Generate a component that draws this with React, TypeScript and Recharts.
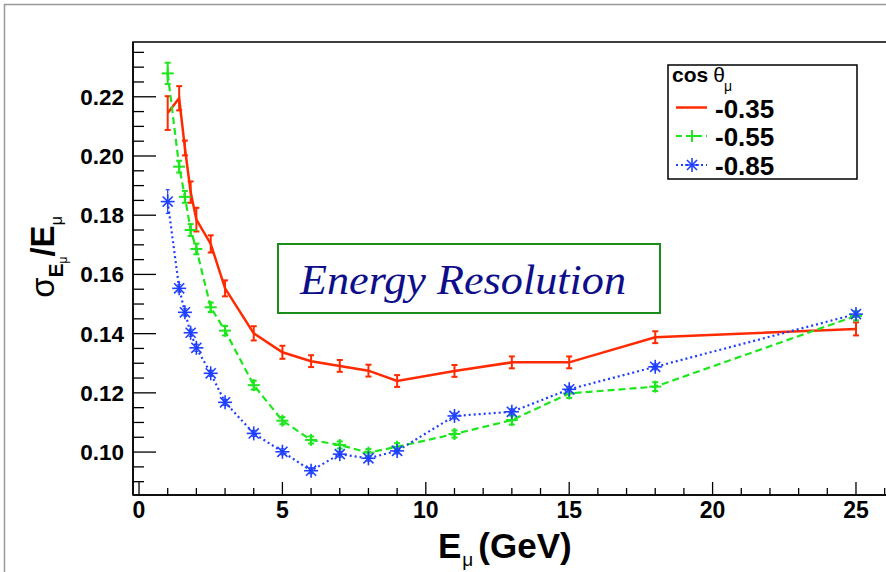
import React from 'react';
import { LineChart, Line, XAxis, YAxis, ErrorBar, ReferenceArea, Legend } from 'recharts';

// ---- data ----
const energies = [1, 1.4, 1.6, 1.8, 2, 2.5, 3, 4, 5, 6, 7, 8, 9, 11, 13, 15, 18, 25];
const resCos035 = [0.2145, 0.2195, 0.2027, 0.1878, 0.1785, 0.1703, 0.1553, 0.1401, 0.1337, 0.1307, 0.1291, 0.1275, 0.124, 0.1274, 0.1303, 0.1303, 0.1388, 0.1416];
const errCos035 = [0.0057, 0.0041, 0.0025, 0.0036, 0.004, 0.0029, 0.0027, 0.0024, 0.0022, 0.002, 0.002, 0.002, 0.002, 0.002, 0.002, 0.002, 0.002, 0.0022];
const resCos055 = [0.2279, 0.1964, 0.1862, 0.175, 0.1686, 0.1489, 0.141, 0.1226, 0.1106, 0.1041, 0.1024, 0.0998, 0.1018, 0.1061, 0.1108, 0.1198, 0.1221, 0.146];
const errCos055 = [0.0036, 0.002, 0.002, 0.002, 0.0018, 0.0016, 0.0016, 0.0015, 0.0012, 0.0012, 0.0012, 0.0012, 0.0012, 0.0012, 0.0015, 0.0015, 0.0015, 0.0015];
const resCos085 = [0.1846, 0.1553, 0.1472, 0.1403, 0.1352, 0.1266, 0.1168, 0.1063, 0.1001, 0.0937, 0.0993, 0.0979, 0.1004, 0.1122, 0.1136, 0.1212, 0.1288, 0.1466];
const errCos085 = [0.004, 0.0012, 0.0012, 0.0012, 0.0012, 0.001, 0.001, 0.001, 0.001, 0.001, 0.001, 0.001, 0.001, 0.001, 0.001, 0.001, 0.001, 0.001];

const seriesLabels = ['-0.35', '-0.55', '-0.85'];
const xTicks = [0, 1, 2, 3, 4, 5, 6, 7, 8, 9, 10, 11, 12, 13, 14, 15, 16, 17, 18, 19, 20, 21, 22, 23, 24, 25, 26];
const yTicks = [0.09, 0.095, 0.1, 0.105, 0.11, 0.115, 0.12, 0.125, 0.13, 0.135, 0.14, 0.145, 0.15, 0.155, 0.16, 0.165, 0.17, 0.175, 0.18, 0.185, 0.19, 0.195, 0.2, 0.205, 0.21, 0.215, 0.22, 0.225, 0.23, 0.235];
const xDomain = [-0.21, 26.5];
const yDomain = [0.0855, 0.2385];

const data = energies.map((e, i) => ({
  e,
  r035: resCos035[i], e035: errCos035[i],
  r055: resCos055[i], e055: errCos055[i],
  r085: resCos085[i], e085: errCos085[i],
}));

const RED = '#ff2a00';
const GREEN = '#1ee61e';
const BLUE = '#1f3fff';
const FONT = '"Liberation Sans", Arial, Helvetica, sans-serif';

const XTick = (props: any) => {
  const { x, y, payload } = props;
  const v = payload.value;
  const major = v % 5 === 0;
  return (
    <g>
      <line x1={x} y1={y} x2={x} y2={y - (major ? 13 : 7)} stroke="#000" strokeWidth={1.3} />
      {major && (
        <text x={x} y={y + 23} textAnchor="middle" fontFamily={FONT} fontWeight="bold" fontSize={23} fill="#000">
          {String(v)}
        </text>
      )}
    </g>
  );
};

const YTick = (props: any) => {
  const { x, y, payload } = props;
  const v = payload.value;
  const major = Math.round(v * 1000) % 20 === 0;
  return (
    <g>
      <line x1={x} y1={y} x2={x + (major ? 23 : 11)} y2={y} stroke="#000" strokeWidth={1.3} />
      {major && (
        <text x={x - 9} y={y + 8} textAnchor="end" fontFamily={FONT} fontWeight="bold" fontSize={22.5} fill="#000">
          {v.toFixed(2)}
        </text>
      )}
    </g>
  );
};

const PlusDot = (props: any) => {
  const { cx, cy } = props;
  if (cx == null || cy == null) return null;
  const r = 6;
  return (
    <g>
      <line x1={cx - r} y1={cy} x2={cx + r} y2={cy} stroke={GREEN} strokeWidth={2} />
      <line x1={cx} y1={cy - r} x2={cx} y2={cy + r} stroke={GREEN} strokeWidth={2} />
    </g>
  );
};

const StarDot = (props: any) => {
  const { cx, cy } = props;
  if (cx == null || cy == null) return null;
  const r = 7;
  const d = r * 0.72;
  return (
    <g stroke={BLUE} strokeWidth={1.6}>
      <line x1={cx - r} y1={cy} x2={cx + r} y2={cy} />
      <line x1={cx} y1={cy - r} x2={cx} y2={cy + r} />
      <line x1={cx - d} y1={cy - d} x2={cx + d} y2={cy + d} />
      <line x1={cx - d} y1={cy + d} x2={cx + d} y2={cy - d} />
    </g>
  );
};

const LegendBox = () => (
  <svg width={192} height={118} style={{ display: 'block' }}>
    <rect x={1} y={1} width={189} height={114} fill="#fff" stroke="#000" strokeWidth={1.5} />
    <text x={5} y={17.5} fontFamily={FONT} fontWeight="bold" fontSize={21} fill="#000">
      cos
      <tspan fontWeight="normal" dx={5}>θ</tspan>
      <tspan fontWeight="normal" fontSize={14} dx={-1} dy={9}>μ</tspan>
    </text>
    {/* -0.35 */}
    <line x1={9} y1={43.5} x2={40} y2={43.5} stroke={RED} strokeWidth={2.5} />
    <text x={48} y={53.5} fontFamily={FONT} fontWeight="bold" fontSize={26} fill="#000">{seriesLabels[0]}</text>
    {/* -0.55 */}
    <line x1={9} y1={72} x2={40} y2={72} stroke={GREEN} strokeWidth={2} strokeDasharray="6 4" />
    <PlusDot cx={25} cy={72} />
    <text x={48} y={82} fontFamily={FONT} fontWeight="bold" fontSize={26} fill="#000">{seriesLabels[1]}</text>
    {/* -0.85 */}
    <line x1={9} y1={101} x2={40} y2={101} stroke={BLUE} strokeWidth={2} strokeDasharray="2 3" />
    <StarDot cx={25} cy={101} />
    <text x={48} y={110.5} fontFamily={FONT} fontWeight="bold" fontSize={26} fill="#000">{seriesLabels[2]}</text>
  </svg>
);

export default function App() {
  return (
    <div style={{ position: 'absolute', left: 0, top: 0, width: 886, height: 572, overflow: 'hidden', background: '#fff' }}>
      <LineChart
        width={900}
        height={572}
        data={data}
        margin={{ top: 42, right: 1, bottom: 0, left: 0 }}
      >
        <XAxis
          dataKey="e"
          type="number"
          domain={xDomain}
          ticks={xTicks}
          interval={0}
          allowDataOverflow
          height={77}
          tickSize={0}
          tickMargin={0}
          tickLine={false}
          axisLine={{ stroke: '#000', strokeWidth: 1.5 }}
          tick={(p: any) => <XTick {...p} />}
        />
        <YAxis
          type="number"
          domain={yDomain}
          ticks={yTicks}
          interval={0}
          allowDataOverflow
          width={133}
          tickSize={0}
          tickMargin={0}
          tickLine={false}
          axisLine={{ stroke: '#000', strokeWidth: 1.5 }}
          tick={(p: any) => <YTick {...p} />}
        />
        <ReferenceArea x1={xDomain[0]} x2={xDomain[1]} y1={yDomain[0]} y2={yDomain[1]} fill="none" stroke="#000" strokeWidth={1.5} fillOpacity={0} />
        <Line type="linear" dataKey="r035" stroke={RED} strokeWidth={2.5} dot={false} isAnimationActive={false}>
          <ErrorBar dataKey="e035" width={3} strokeWidth={2} stroke={RED} direction="y" isAnimationActive={false} />
        </Line>
        <Line
          type="linear"
          dataKey="r055"
          stroke={GREEN}
          strokeWidth={2.2}
          strokeDasharray="7 4"
          dot={(p: any) => <PlusDot key={'g' + p.index} {...p} />}
          isAnimationActive={false}
        >
          <ErrorBar dataKey="e055" width={3} strokeWidth={2} stroke={GREEN} direction="y" isAnimationActive={false} />
        </Line>
        <Line
          type="linear"
          dataKey="r085"
          stroke={BLUE}
          strokeWidth={2.2}
          strokeDasharray="2 3"
          dot={(p: any) => <StarDot key={'b' + p.index} {...p} />}
          isAnimationActive={false}
        >
          <ErrorBar dataKey="e085" width={2} strokeWidth={1.2} stroke={BLUE} direction="y" isAnimationActive={false} />
        </Line>
        <Legend
          layout="vertical"
          align="center"
          verticalAlign="middle"
          content={() => <LegendBox />}
          wrapperStyle={{ left: 667, top: 64, width: 192, height: 118 }}
        />
      </LineChart>
      <svg width={886} height={572} style={{ position: 'absolute', left: 0, top: 0, pointerEvents: 'none' }}>
        <rect x={4.5} y={4.5} width={1000} height={1000} fill="none" stroke="#999" strokeWidth={1.5} />
        {/* title box */}
        <rect x={278} y={244} width={382} height={69} fill="#fff" stroke="#1a8c1a" strokeWidth={2} />
        <text x={300} y={294} fontFamily='"Liberation Serif", "DejaVu Serif", serif' fontStyle="italic" fontSize={42} fill="#0e0e8a" textLength={326} lengthAdjust="spacingAndGlyphs">
          Energy Resolution
        </text>
        {/* x-axis title */}
        <text x={438} y={558} fontFamily={FONT} fontWeight="bold" fontSize={35} fill="#000">
          E
          <tspan fontWeight="normal" fontSize={19} dy={8} dx={1}>μ</tspan>
          <tspan dy={-8} dx={5}>(GeV)</tspan>
        </text>
        {/* y-axis title */}
        <text transform="translate(54,257) rotate(-90)" textAnchor="middle" fontFamily={FONT} fontWeight="bold" fontSize={33} fill="#000">
          <tspan fontWeight="normal">σ</tspan>
          <tspan fontSize={21} dy={9}>E</tspan>
          <tspan fontWeight="normal" fontSize={12} dy={4}>μ</tspan>
          <tspan fontSize={33} dy={-13}>/E</tspan>
          <tspan fontWeight="normal" fontSize={16} dy={8}>μ</tspan>
        </text>
      </svg>
    </div>
  );
}
